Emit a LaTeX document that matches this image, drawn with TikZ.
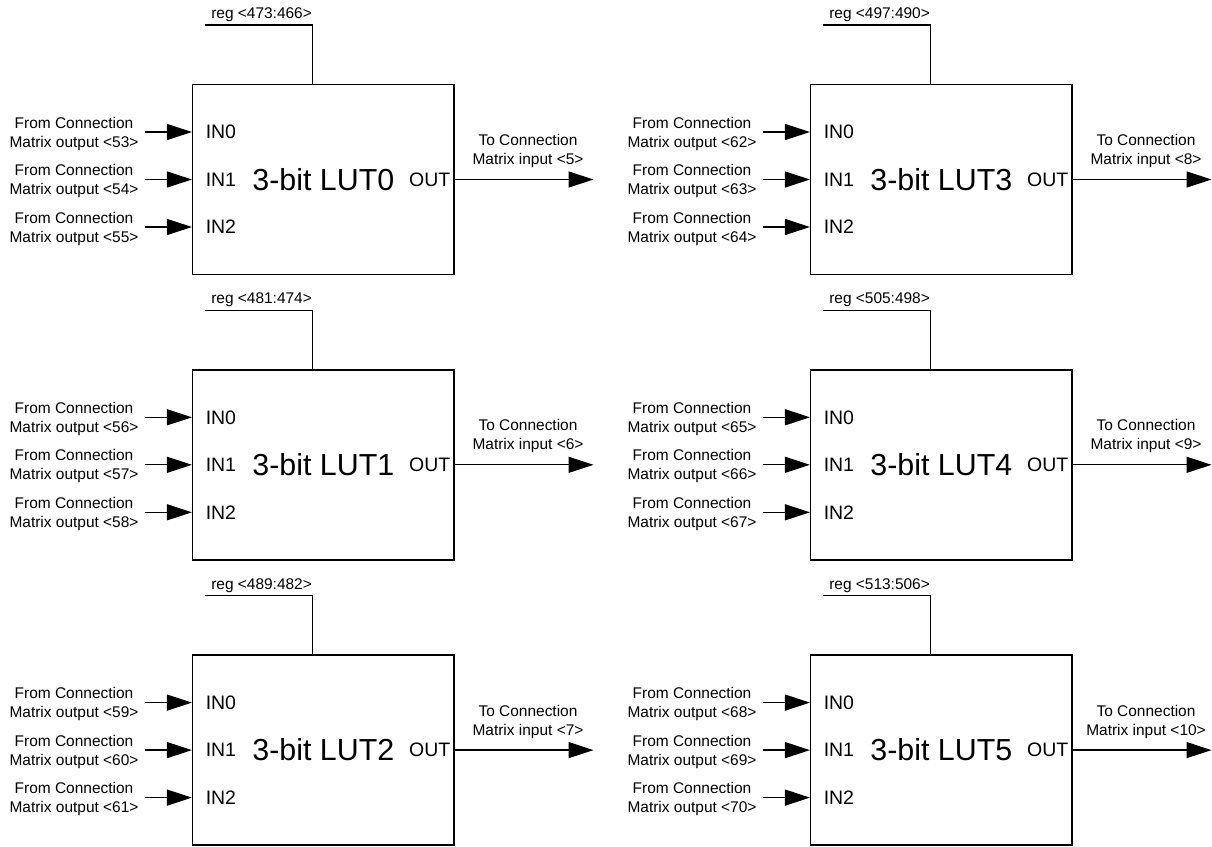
\documentclass[tikz,border=0pt]{standalone}
\usepackage{fontspec}
\setmainfont{Liberation Sans}
\usetikzlibrary{arrows.meta}
\tikzset{
  lutbox/.style={draw, line width=1.1pt, minimum width=196pt, minimum height=142.5pt,
    inner sep=0pt, font=\fontsize{22.8}{27}\selectfont},
  pinlbl/.style={inner sep=0pt, font=\fontsize{14.6}{17}\selectfont},
  smalllbl/.style={inner sep=0pt, align=center, font=\fontsize{11.6}{14.25}\selectfont},
  wire/.style={line width=0.95pt},
  sig/.style={wire, -{Triangle[length=18.75pt,width=12pt]}},
}
\begin{document}
\begin{tikzpicture}[x=0.75pt,y=-0.75pt]
\useasboundingbox (0,0) rectangle (1212,846);
\foreach \n/\c/\r/\hi/\lo/\a/\o in {0/0/0/473/466/53/5, 1/0/1/481/474/56/6, 2/0/2/489/482/59/7,
                                    3/1/0/497/490/62/8, 4/1/1/505/498/65/9, 5/1/2/513/506/68/10}{
  \begin{scope}[shift={(618*\c,285.3*\r)}]
    % box
    \node[lutbox] (lut\n) at (323.35,179.5) {3-bit LUT\n};
    % register line
    \coordinate (regend\n) at (205.3,25);
    \coordinate (regcorner\n) at (312.3,25);
    \draw[wire] (regend\n) -- (regcorner\n) -- (regcorner\n |- lut\n.north);
    \node[smalllbl, anchor=base west] (reg\n) at (211,18.6) {reg <\hi:\lo>};
    % pin labels
    \node[pinlbl, anchor=west] (pin\n-0) at (205.5,132) {IN0};
    \node[pinlbl, anchor=west] (pin\n-1) at (205.5,179.5) {IN1};
    \node[pinlbl, anchor=west] (pin\n-2) at (205.5,227) {IN2};
    \node[pinlbl, anchor=east] (pout\n) at (450.5,179.5) {OUT};
    % inputs
    \foreach \k/\y in {0/132,1/179.5,2/227}{
      \pgfmathtruncatemacro\num{\a+\k}
      \node[smalllbl] (src\n-\k) at (74,\y+1.5) {From Connection\\Matrix output <\num>};
      \coordinate (st\n-\k) at (145,\y);
      \draw[sig] (st\n-\k) -- (st\n-\k -| lut\n.west);
    }
    % output
    \coordinate (oe\n) at (593.5,179.5);
    \draw[sig] (lut\n.east) -- (oe\n);
    \node[smalllbl] (dst\n) at (528,151) {To Connection\\Matrix input <\o>};
  \end{scope}
}
\end{tikzpicture}
\end{document}
